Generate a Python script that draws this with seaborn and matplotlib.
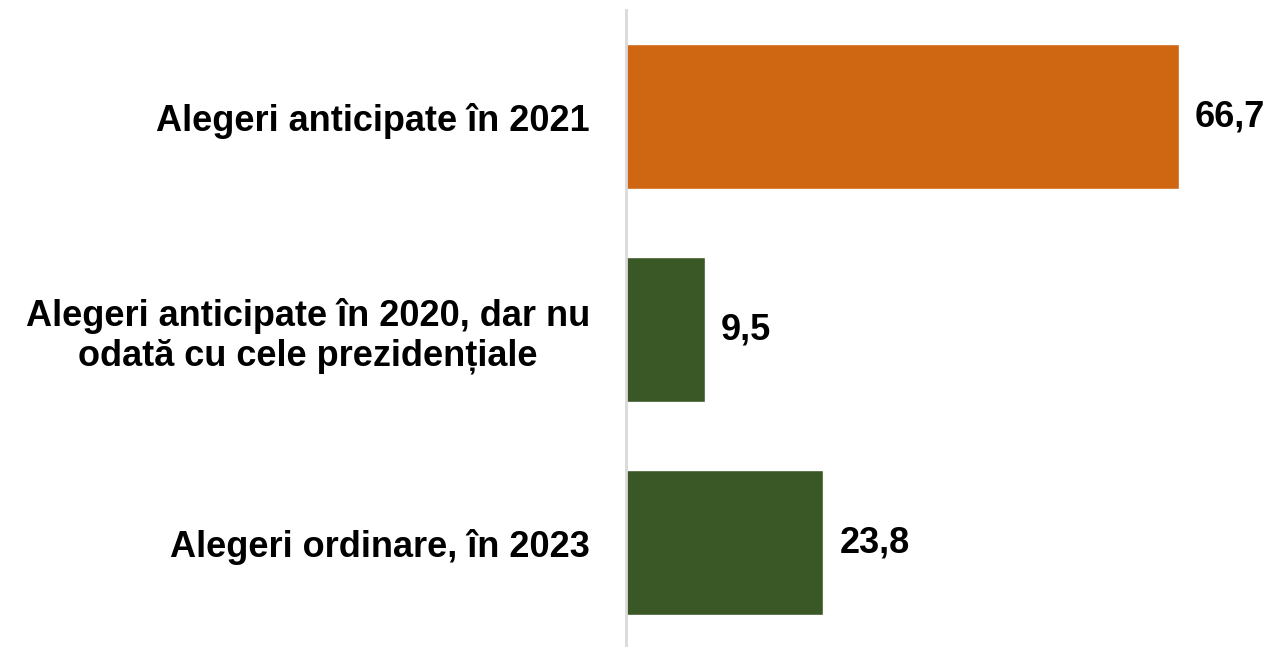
import matplotlib
matplotlib.use("Agg")
import matplotlib.pyplot as plt
import seaborn as sns
import pandas as pd

categories = ["Alegeri anticipate în 2021",
              "Alegeri anticipate în 2020, dar nu\nodată cu cele prezidențiale",
              "Alegeri ordinare, în 2023"]
values = [66.7, 9.5, 23.8]
value_labels = ["66,7", "9,5", "23,8"]
colors = ["#CF6611", "#3A5825", "#3A5825"]

sns.set_theme(style="white")
plt.rcParams['font.family'] = ['Liberation Sans', 'DejaVu Sans']

df = pd.DataFrame({"cat": categories, "val": values})

fig = plt.figure(figsize=(12.71, 6.47), dpi=100)
fig.patch.set_facecolor("white")
ax = fig.add_axes([626/1271, 0, 1 - 626/1271, 1 - 10/647])

sns.barplot(data=df, y="cat", x="val", hue="cat", palette=colors, legend=False,
            orient="h", width=0.68, ax=ax, saturation=1)

ax.set_xlim(0, 77.8)
ax.set_ylim(2.49, -0.5)
ax.set_xlabel("")
ax.set_ylabel("")
ax.set_xticks([])
for s in ["top", "right", "bottom"]:
    ax.spines[s].set_visible(False)
ax.spines["left"].set_color("#D9D9D9")
ax.spines["left"].set_linewidth(2)
ax.tick_params(axis="y", length=0, pad=26)
for lbl in ax.get_yticklabels():
    lbl.set_fontsize(26)
    lbl.set_fontweight("bold")
    lbl.set_color("black")
    lbl.set_multialignment("center")
    lbl.set_linespacing(1.15)

for i, (v, t) in enumerate(zip(values, value_labels)):
    ax.annotate(t, xy=(v, i), xytext=(16, 0), textcoords="offset pixels",
                ha="left", va="center", fontsize=26, fontweight="bold", color="black")

fig.savefig("out.png", dpi=100, facecolor="white")
